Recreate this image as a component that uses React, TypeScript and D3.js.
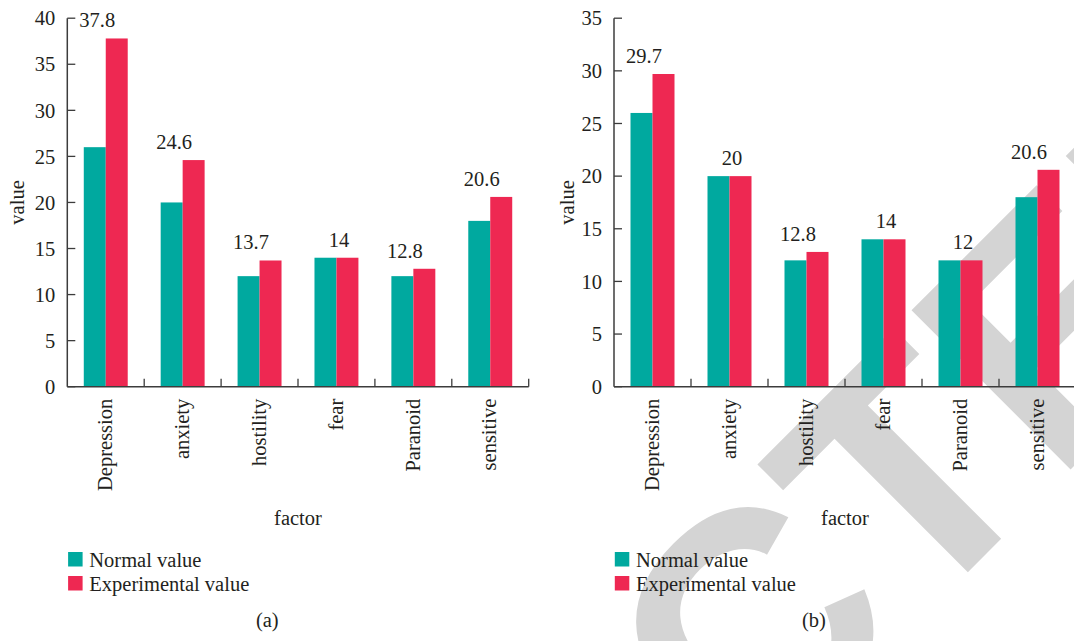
import React from "react";
import * as d3 from "d3";

const categories = ["Depression", "anxiety", "hostility", "fear", "Paranoid", "sensitive"];
const seriesNames = ["Normal value", "Experimental value"];
const normalA = [26, 20, 12, 14, 12, 18];
const experimentalA = [37.8, 24.6, 13.7, 14, 12.8, 20.6];
const normalB = [26, 20, 12, 14, 12, 18];
const experimentalB = [29.7, 20, 12.8, 14, 12, 20.6];
const ticksA = [0, 5, 10, 15, 20, 25, 30, 35, 40];
const ticksB = [0, 5, 10, 15, 20, 25, 30, 35];
const panelLabels = ["(a)", "(b)"];
const watermarkText = "RETRACTED";

const COLORS = ["#00A99F", "#EE2852"];
const TEXT = "#231F20";
const AXIS = "#3C3C3C";
const FONT = "Liberation Serif, Times New Roman, serif";

type PanelProps = {
  x0: number;
  x1: number;
  yMax: number;
  ticks: number[];
  normal: number[];
  experimental: number[];
  label: string;
  titleOffset: number;
};

function Panel({ x0, x1, yMax, ticks, normal, experimental, label, titleOffset }: PanelProps) {
  const yBase = 386.7;
  const yTop = 18.2;
  const x = d3.scaleBand<string>().domain(categories).range([x0, x1]).paddingInner(0).paddingOuter(0);
  const sub = d3.scaleBand<string>().domain(seriesNames).range([0, x.bandwidth()]).paddingInner(0).paddingOuter(0.75);
  const y = d3.scaleLinear().domain([0, yMax]).range([yBase, yTop]);
  const series = [normal, experimental];
  const boundaries = categories.map((c) => (x(c) as number) + x.bandwidth());
  const cx = (x0 + x1) / 2;
  const fs = 20.5;

  return (
    <g fontFamily={FONT} fill={TEXT}>
      {series.map((vals, si) =>
        vals.map((v, i) => (
          <rect
            key={`b${si}-${i}`}
            x={(x(categories[i]) as number) + (sub(seriesNames[si]) as number)}
            y={y(v)}
            width={sub.bandwidth()}
            height={yBase - y(v)}
            fill={COLORS[si]}
          />
        ))
      )}
      {experimental.map((v, i) => {
        const txt = String(v);
        const bc = (x(categories[i]) as number) + x.bandwidth() / 2;
        const top = Math.max(v, normal[i]);
        return (
          <text
            key={`l${i}`}
            x={bc + 2.5 - 5.5 * (txt.length - 2)}
            y={y(top) - 11}
            textAnchor="middle"
            fontSize={fs}
          >
            {txt}
          </text>
        );
      })}
      <line x1={x0} x2={x0} y1={yBase} y2={y(yMax)} stroke={AXIS} strokeWidth={1.5} />
      {ticks.map((t) => (
        <g key={`yt${t}`}>
          <line x1={x0} x2={x0 + 8} y1={y(t)} y2={y(t)} stroke={AXIS} strokeWidth={1.3} />
          <text x={x0 - 12} y={y(t)} dy="0.35em" textAnchor="end" fontSize={fs}>
            {t}
          </text>
        </g>
      ))}
      <line x1={x0} x2={x1} y1={yBase} y2={yBase} stroke={AXIS} strokeWidth={1.5} />
      {boundaries.map((b, i) => (
        <line key={`xt${i}`} x1={b} x2={b} y1={yBase} y2={yBase - 8} stroke={AXIS} strokeWidth={1.3} />
      ))}
      {categories.map((c) => {
        const bc = (x(c) as number) + x.bandwidth() / 2;
        return (
          <text
            key={`xl${c}`}
            transform={`translate(${bc},${yBase + 12}) rotate(-90)`}
            dy="0.3em"
            textAnchor="end"
            fontSize={fs}
          >
            {c}
          </text>
        );
      })}
      <text
        transform={`translate(${x0 - titleOffset},${(yBase + yTop) / 2}) rotate(-90)`}
        textAnchor="middle"
        fontSize={fs}
      >
        value
      </text>
      <text x={cx} y={525} textAnchor="middle" fontSize={fs}>
        factor
      </text>
      {seriesNames.map((s, i) => (
        <g key={`lg${i}`}>
          <rect x={x0 + 0.8} y={552 + i * 24} width={14.5} height={14.5} fill={COLORS[i]} />
          <text x={x0 + 22} y={566.5 + i * 24} fontSize={fs}>
            {s}
          </text>
        </g>
      ))}
      <text x={x0 + 200} y={627} textAnchor="middle" fontSize={fs}>
        {label}
      </text>
    </g>
  );
}

export default function App() {
  return (
    <svg
      width={1074}
      height={641}
      viewBox="0 0 1074 641"
      style={{ position: "absolute", left: 0, top: 0, background: "#fff" }}
    >
      <rect x={0} y={0} width={1074} height={641} fill="#fff" />
      <text
        transform="translate(-49.5,1589.5) rotate(-45)"
        fontFamily="Liberation Sans, Arial, sans-serif"
        fontWeight="bold"
        fontSize={327}
        fill="#D4D4D4"
      >
        {watermarkText}
      </text>
      <Panel x0={67.3} x1={528.7} yMax={40} ticks={ticksA} normal={normalA} experimental={experimentalA} label={panelLabels[0]} titleOffset={43} />
      <Panel x0={614} x1={1076} yMax={35} ticks={ticksB} normal={normalB} experimental={experimentalB} label={panelLabels[1]} titleOffset={40} />
    </svg>
  );
}
